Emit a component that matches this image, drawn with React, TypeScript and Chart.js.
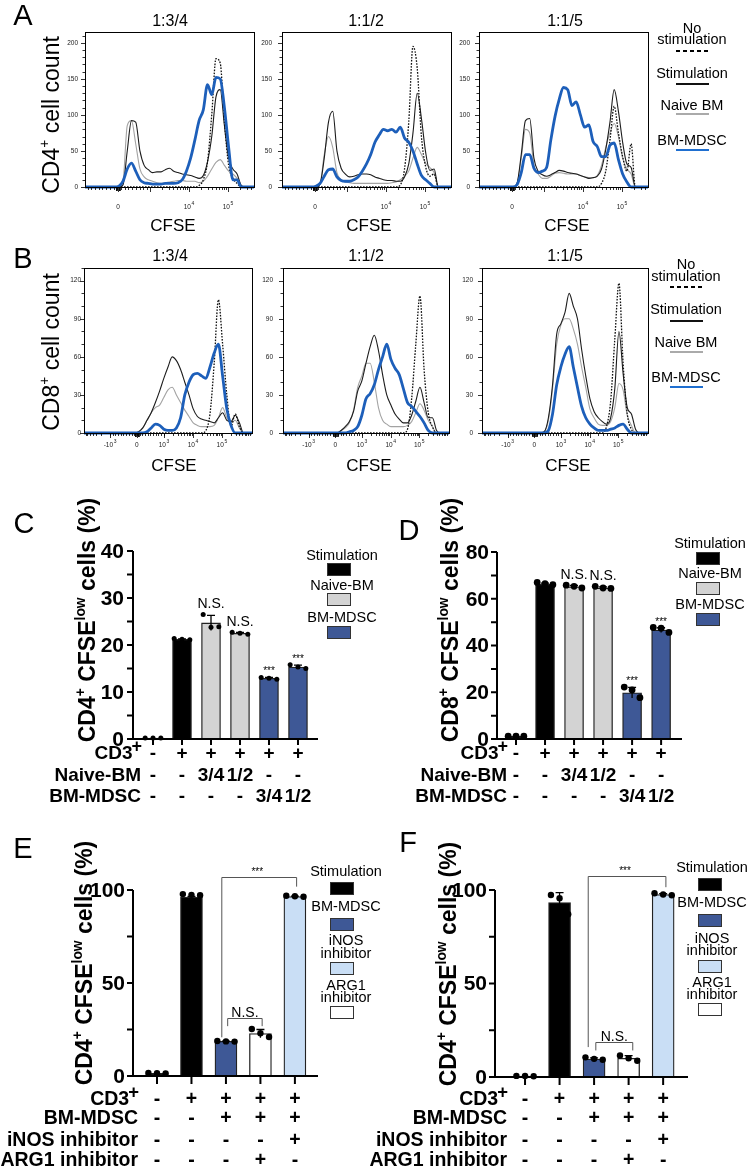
import React, { useEffect, useRef } from 'react';
import { Chart, registerables } from 'chart.js';

Chart.register(...registerables);

const FONT = '"Liberation Sans", Arial, Helvetica, sans-serif';
const W = 750;
const H = 1170;
const BLUE_LINE = '#1d5fba';
const BAR_BLUE = '#3e5896';
const BAR_GRAY = '#d3d3d3';
const BAR_LIGHT = '#c9def5';

// ---------- Histogram data (CFSE channel as % of display range, cell counts) ----------
const CFSE_CH = [0, 2.5, 5, 7.5, 10, 12.5, 15, 17.5, 20, 22.5, 25, 27.5, 30, 32.5, 35, 37.5, 40, 42.5, 45, 47.5, 50, 52.5, 55, 57.5, 60, 62.5, 65, 67.5, 70, 72.5, 75, 77.5, 80, 82.5, 85, 87.5, 90, 92.5, 95, 97.5, 100];

const A1_DOTTED = [0,0,0,0,0,0,0,0,0,0,0,0,0,0,0,0,0,0,0,0, 0,0,0,0,0,0,0,2,10,35, 100,178,172,90,30,12,5,0,0,0,0];
const A1_STIM = [0,0,0,0,0,0,0,0,0, 3,50,92,90,50,30,24,20,21,21,24, 26,22,20,18,17,16,14,12,16,35, 70,125,135,85,40,25,18,2,0,0,0];
const A1_NAIVE = [0,0,0,0,0,0,0,0,0, 8,85,92,60,25,14,10,8,6,5,6, 7,8,9,9,8,8,8,6,8,15, 25,34,38,30,22,18,12,2,0,0,0];
const A1_MDSC = [0,0,0,0,0,0,0,0, 1,8,25,33,22,10,6,5,4,4,4,5, 5,5,6,10,22,40,65,92,107,142, 128,152,150,110,55,10,10,0,0,0,0];

const A2_DOTTED = [0,0,0,0,0,0,0,0,0,0,0,0,0,0,0,0,0,0,0,0, 0,0,0,0,0,0,0,0,3,25, 90,195,165,70,28,15,18,0,0,0,0];
const A2_STIM = [0,0,0,0,0,0,0,0,0, 4,40,90,105,50,26,18,14,15,17,18, 18,17,14,12,10,9,9,8,8,14, 32,75,130,95,48,23,25,0,0,0,0];
const A2_NAIVE = [0,0,0,0,0,0,0,0,0, 4,45,70,55,20,10,7,6,5,5,5, 5,5,5,5,5,5,6,7,10,15, 22,40,55,45,33,27,20,0,0,0,0];
const A2_MDSC = [0,0,0,0,0,0,0,0, 1,5,15,24,25,14,9,8,8,10,14,22, 32,45,62,72,80,78,80,76,83,68, 62,50,32,16,10,5,0,0,0,0,0];

const A3_DOTTED = [0,0,0,0,0,0,0,0,0,0,0,0,0,0,0,0,0,0,0,0, 0,0,0,0,0,0,0,0,0,5, 22,65,112,75,42,22,60,0,0,0,0];
const A3_STIM = [0,0,0,0,0,0,0,0,0, 5,45,92,95,40,22,17,15,17,20,23, 22,20,19,18,16,14,12,13,15,25, 52,90,135,105,62,32,27,0,0,0,0];
const A3_NAIVE = [0,0,0,0,0,0,0,0,0, 5,40,80,75,30,18,12,12,15,19,20, 19,18,18,18,16,14,13,13,16,30, 55,75,88,70,40,25,18,0,0,0,0];
const A3_MDSC = [0,0,0,0,0,0,0,0,0, 3,20,45,45,26,20,22,27,65,98,122, 138,135,113,118,100,83,86,63,56,42, 42,58,61,38,18,7,0,0,0,0,0];

const B1_DOTTED = [0,0,0,0,0,0,0,0,0,0,0,0,0,0,0,0,0,0,0,0, 0,0,0,0,0,0,0,0,0,2, 15,55,105,70,30,5,15,5,0,0,0];
const B1_STIM = [0,0,0,0,0,0,0,0,0,0,0,0,0, 1,4,10,16,24,33,43, 52,60,57,50,40,30,19,13,11,10, 9,8,12,16,10,9,14,8,0,0,0];
const B1_NAIVE = [0,0,0,0,0,0,0,0,0,0,0,0,0, 1,4,10,16,20,22,28, 34,36,30,24,18,13,8,6,5,5, 5,6,12,20,12,8,10,4,0,0,0];
const B1_MDSC = [0,0,0,0,0,0,0,0,0,0,0,0,0,0,0, 1,4,7,6,3, 2,2,4,12,30,40,46,47,45,43, 52,63,70,45,19,6,0,0,0,0,0];

const B2_DOTTED = [0,0,0,0,0,0,0,0,0,0,0,0,0,0,0,0,0,0,0,0, 0,0,0,0,0,0,0,0,0,0, 3,27,70,108,50,16,5,0,0,0,0];
const B2_STIM = [0,0,0,0,0,0,0,0,0,0,0,0,0,0, 2,5,9,17,33,41, 55,68,77,65,46,30,22,15,11,8, 8,14,25,36,24,12,12,2,0,0,0];
const B2_NAIVE = [0,0,0,0,0,0,0,0,0,0,0,0,0,0, 2,4,8,18,36,45, 55,55,40,20,10,7,5,5,5,5, 6,9,16,23,18,10,5,0,0,0,0];
const B2_MDSC = [0,0,0,0,0,0,0,0,0,0,0,0,0,0,0,0, 1,2,5,14, 27,31,38,50,60,70,58,51,46,35, 24,21,17,13,8,2,0,0,0,0,0];

const B3_DOTTED = [0,0,0,0,0,0,0,0,0,0,0,0,0,0,0,0,0,0,0,0, 0,0,0,0,0,0,0,0,0,0, 5,25,74,118,55,15,3,0,0,0,0];
const B3_STIM = [0,0,0,0,0,0,0,0,0,0,0,0,0,0,0, 1,12,38,78,86, 95,110,100,90,66,45,27,17,12,9, 7,12,35,80,47,20,15,3,0,0,0];
const B3_NAIVE = [0,0,0,0,0,0,0,0,0,0,0,0,0,0,0, 1,10,35,70,85, 90,90,82,70,52,36,19,12,7,6, 6,9,20,39,34,14,6,0,0,0,0];
const B3_MDSC = [0,0,0,0,0,0,0,0,0,0,0,0,0,0,0,0, 2,15,38,52, 62,68,52,36,21,12,7,4,2,2, 2,3,4,6,7,3,0,0,0,0,0];

// Tick labels of the histograms
const A_XLABELS = [{ p: 19.5, t: '0' }, { p: 61.5, t: '10', e: '4' }, { p: 84.6, t: '10', e: '5' }];
const B_XLABELS = [{ p: 15.5, t: '-10', e: '3' }, { p: 31.5, t: '0' }, { p: 47.6, t: '10', e: '3' }, { p: 64.9, t: '10', e: '4' }, { p: 82.1, t: '10', e: '5' }];

// ---------- Bar data ----------
const C_MEAN = [0.2, 21.2, 24.7, 22.5, 12.9, 15.3];
const C_SD = [0, 0.1, 1.6, 0.2, 0.2, 0.4];
const C_REP1 = [0.2, 21.4, 26.5, 22.7, 13.1, 15.8];
const C_REP2 = [0.2, 21.2, 23.8, 22.5, 12.9, 15.3];
const C_REP3 = [0.2, 21.1, 23.9, 22.3, 12.7, 15.0];
const C_NOTES = ['', '', 'N.S.', 'N.S.', '***', '***'];
const C_ROW_CD3 = ['-', '+', '+', '+', '+', '+'];
const C_ROW_NAIVE = ['-', '-', '3/4', '1/2', '-', '-'];
const C_ROW_MDSC = ['-', '-', '-', '-', '3/4', '1/2'];
const C_YTICKS = [0, 5, 10, 15, 20, 25, 30, 35, 40];
const C_YLABELS = [0, 10, 20, 30, 40];

const D_MEAN = [1.2, 66.2, 65.1, 64.6, 19.8, 46.6];
const D_SD = [0, 0.5, 0.6, 0.5, 2.3, 1.0];
const D_REP1 = [1.2, 67.0, 65.8, 65.3, 22.2, 47.7];
const D_REP2 = [1.2, 66.5, 65.3, 64.6, 21.0, 47.4];
const D_REP3 = [1.2, 66.0, 64.6, 64.4, 17.7, 45.6];
const D_NOTES = ['', '', 'N.S.', 'N.S.', '***', '***'];
const D_YTICKS = [0, 10, 20, 30, 40, 50, 60, 70, 80];
const D_YLABELS = [0, 20, 40, 60, 80];

const E_MEAN = [1.5, 96.2, 18.6, 22.8, 96.5];
const E_SD = [0, 0.4, 0.15, 2.2, 0.25];
const E_REP1 = [1.6, 97.8, 18.8, 25.3, 96.9];
const E_REP2 = [1.5, 97.4, 18.6, 23.0, 96.6];
const E_REP3 = [1.4, 97.2, 18.5, 21.0, 96.4];

const F_MEAN = [0.5, 93.3, 9.6, 10.0, 97.6];
const F_SD = [0, 5.3, 0.6, 1.4, 0.5];
const F_REP1 = [0.6, 97.3, 10.5, 11.5, 98.3];
const F_REP2 = [0.5, 95.6, 9.7, 10.0, 97.6];
const F_REP3 = [0.4, 87.0, 9.2, 8.7, 97.2];

const EF_ROW_CD3 = ['-', '+', '+', '+', '+'];
const EF_ROW_MDSC = ['-', '-', '+', '+', '+'];
const EF_ROW_INOS = ['-', '-', '-', '-', '+'];
const EF_ROW_ARG1 = ['-', '-', '-', '+', '-'];
const EF_YTICKS = [0, 25, 50, 75, 100];
const EF_YLABELS = [0, 50, 100];

// ---------- Plugins ----------
function makeHistPlugin(axis: any, yLabelRight: number) {
  return {
    id: 'histDeco',
    afterDraw(chart: any) {
      const { ctx, chartArea: a, scales } = chart;
      const xs = scales.x;
      const ys = scales.y;
      ctx.save();
      ctx.strokeStyle = '#000';
      ctx.lineWidth = 1;
      ctx.strokeRect(a.left + 0.5, a.top + 0.5, a.right - a.left, a.bottom - a.top);
      ctx.lineWidth = 0.8;
      ctx.beginPath();
      const tick = (p: number, len: number) => {
        if (p < 0 || p > 100) return;
        const px = Math.round(xs.getPixelForValue(p)) + 0.5;
        ctx.moveTo(px, a.bottom + 0.5);
        ctx.lineTo(px, a.bottom + 0.5 + len);
      };
      for (let p = axis.lin[0]; p <= axis.lin[1] + 0.01; p += axis.lin[2]) tick(p, 2.5);
      axis.decades.forEach((d: number[]) => {
        for (let k = 2; k <= 9; k++) tick(d[0] + Math.log10(k) * (d[1] - d[0]), 2.5);
      });
      if (axis.neg) {
        for (let k = 2; k <= 9; k++) tick(axis.neg[0] - Math.log10(k) * (axis.neg[0] - axis.neg[1]), 2.5);
      }
      [-1.4, -0.9, -0.45, 0.45, 0.9, 1.4].forEach((o) => tick(axis.cluster + o, 3.5));
      axis.majors.forEach((p: number) => tick(p, 4.5));
      for (let v = 0; v <= axis.yMax; v += axis.yMinor) {
        const py = Math.round(ys.getPixelForValue(v)) + 0.5;
        const len = v % axis.yMajor === 0 ? 4 : 2.5;
        ctx.moveTo(a.left - len, py);
        ctx.lineTo(a.left, py);
      }
      ctx.stroke();
      ctx.fillStyle = '#222';
      ctx.font = `6.5px ${FONT}`;
      ctx.textAlign = 'right';
      ctx.textBaseline = 'middle';
      for (let v = 0; v <= axis.yMax; v += axis.yMajor) ctx.fillText(String(v), yLabelRight, ys.getPixelForValue(v));
      ctx.textAlign = 'left';
      ctx.textBaseline = 'alphabetic';
      axis.labels.forEach((l: any) => {
        const px = xs.getPixelForValue(l.p);
        ctx.font = `6.5px ${FONT}`;
        const wb = ctx.measureText(l.t).width;
        let we = 0;
        if (l.e) {
          ctx.font = `5px ${FONT}`;
          we = ctx.measureText(l.e).width + 0.6;
        }
        const x0 = px - (wb + we) / 2;
        ctx.font = `6.5px ${FONT}`;
        ctx.fillText(l.t, x0, axis.xLabelY + 2.5);
        if (l.e) {
          ctx.font = `5px ${FONT}`;
          ctx.fillText(l.e, x0 + wb + 0.6, axis.xLabelY - 1.5);
        }
      });
      ctx.restore();
    },
  };
}

function makeBarPlugin(cfg: any) {
  return {
    id: 'barDeco',
    afterDatasetsDraw(chart: any) {
      const { ctx, scales } = chart;
      const x = scales.x;
      const y = scales.y;
      ctx.save();
      ctx.strokeStyle = '#000';
      ctx.lineWidth = 1.3;
      cfg.mean.forEach((m: number, i: number) => {
        const s = cfg.sd[i];
        if (!s) return;
        const px = x.getPixelForValue(i);
        const y1 = y.getPixelForValue(m + s);
        const y0 = y.getPixelForValue(Math.max(m - s, 0));
        ctx.beginPath();
        ctx.moveTo(px, y0);
        ctx.lineTo(px, y1);
        ctx.moveTo(px - cfg.cap, y1);
        ctx.lineTo(px + cfg.cap, y1);
        ctx.stroke();
      });
      ctx.restore();
    },
    afterDraw(chart: any) {
      const { ctx, chartArea: a, scales } = chart;
      const x = scales.x;
      const y = scales.y;
      ctx.save();
      ctx.strokeStyle = '#000';
      ctx.lineWidth = 2;
      ctx.beginPath();
      ctx.moveTo(a.left, a.top);
      ctx.lineTo(a.left, a.bottom + 1);
      ctx.moveTo(a.left - 1, a.bottom);
      ctx.lineTo(a.right, a.bottom);
      cfg.yTicks.forEach((v: number) => {
        const py = y.getPixelForValue(v);
        ctx.moveTo(a.left - cfg.tickLen, py);
        ctx.lineTo(a.left, py);
      });
      cfg.mean.forEach((_: number, i: number) => {
        const px = x.getPixelForValue(i);
        ctx.moveTo(px, a.bottom);
        ctx.lineTo(px, a.bottom + cfg.xTickLen);
      });
      ctx.stroke();
      ctx.fillStyle = '#000';
      ctx.font = `bold ${cfg.yFont}px ${FONT}`;
      ctx.textAlign = 'right';
      ctx.textBaseline = 'middle';
      cfg.yLabels.forEach((v: number) => ctx.fillText(String(v), a.left - cfg.yLabelGap, y.getPixelForValue(v) + 1));
      // rows of +/- under the axis
      cfg.rows.forEach((row: any, k: number) => {
        const ry = cfg.rowY[k];
        ctx.font = `bold ${cfg.rowFont}px ${FONT}`;
        ctx.textAlign = 'right';
        if (row.sup) {
          ctx.font = `bold ${cfg.rowFont - 1}px ${FONT}`;
          const wp = ctx.measureText(row.sup).width;
          ctx.textAlign = 'left';
          ctx.fillText(row.sup, cfg.rowRight - wp + 1, ry - 7);
          ctx.font = `bold ${cfg.rowFont}px ${FONT}`;
          ctx.textAlign = 'right';
          ctx.fillText(row.label, cfg.rowRight - wp + 2, ry);
        } else {
          ctx.fillText(row.label, cfg.rowRight, ry);
        }
        ctx.textAlign = 'center';
        row.vals.forEach((s: string, i: number) => ctx.fillText(s, x.getPixelForValue(i), ry));
      });
      // significance notes above bars
      ctx.textBaseline = 'alphabetic';
      ctx.textAlign = 'center';
      (cfg.notes || []).forEach((t: string, i: number) => {
        if (!t) return;
        const top = Math.max(cfg.reps[0][i], cfg.reps[1][i], cfg.reps[2][i], cfg.mean[i] + cfg.sd[i]);
        const py = y.getPixelForValue(top);
        if (t === '***') {
          ctx.font = `10px ${FONT}`;
          ctx.fillText(t, x.getPixelForValue(i), py - 3);
        } else {
          ctx.font = `14px ${FONT}`;
          ctx.fillText(t, x.getPixelForValue(i), py - 6);
        }
      });
      // brackets
      (cfg.brackets || []).forEach((b: any) => {
        const x0 = x.getPixelForValue(b.x0);
        const x1 = x.getPixelForValue(b.x1);
        const yb = Math.round(y.getPixelForValue(b.y)) + 0.5;
        ctx.strokeStyle = '#555';
        ctx.lineWidth = 1;
        ctx.beginPath();
        ctx.moveTo(x0, y.getPixelForValue(b.l0));
        ctx.lineTo(x0, yb);
        ctx.lineTo(x1, yb);
        ctx.lineTo(x1, y.getPixelForValue(b.l1));
        ctx.stroke();
        if (b.t === '***') {
          ctx.font = `10px ${FONT}`;
          ctx.fillText(b.t, (x0 + x1) / 2 - 2, yb - 3);
        } else {
          ctx.font = `14px ${FONT}`;
          ctx.fillText(b.t, (x0 + x1) / 2, yb - 2);
        }
      });
      ctx.restore();
    },
  };
}

// ---------- Components ----------
function Hist({ area, series, axis, yLabelRight }: any) {
  const ref = useRef<HTMLCanvasElement>(null);
  useEffect(() => {
    const [l, t, r, b] = area;
    const styles = [
      { key: 'naive', color: '#a3a3a3', width: 1.1, dash: [], order: 3 },
      { key: 'stim', color: '#1c1c1c', width: 1.1, dash: [], order: 2 },
      { key: 'dotted', color: '#111', width: 1.3, dash: [1.6, 1.4], order: 1 },
      { key: 'mdsc', color: BLUE_LINE, width: 2.8, dash: [], order: 0 },
    ];
    const datasets = styles.map((s) => ({
      type: 'line',
      data: series[s.key].map((v: number, i: number) => ({ x: CFSE_CH[i], y: v })),
      borderColor: s.color,
      borderWidth: s.width,
      borderDash: s.dash,
      order: s.order,
      pointRadius: 0,
      fill: false,
      cubicInterpolationMode: 'monotone',
      clip: false,
    }));
    const chart = new Chart(ref.current as HTMLCanvasElement, {
      type: 'line',
      data: { datasets } as any,
      options: {
        animation: false,
        responsive: false,
        devicePixelRatio: 1,
        events: [],
        layout: { padding: { left: l, top: t, right: W - r, bottom: H - b } },
        plugins: { legend: { display: false }, tooltip: { enabled: false } },
        scales: {
          x: { type: 'linear', display: false, min: 0, max: 100 },
          y: { type: 'linear', display: false, min: 0, max: axis.yMax },
        },
      } as any,
      plugins: [makeHistPlugin(axis, yLabelRight)],
    });
    return () => chart.destroy();
  }, []);
  return <canvas ref={ref} width={W} height={H} style={{ position: 'absolute', left: 0, top: 0 }} />;
}

function Bars({ area, xMin, xMax, yMax, mean, sd, reps, colors, cfg }: any) {
  const ref = useRef<HTMLCanvasElement>(null);
  useEffect(() => {
    const [l, t, r, b] = area;
    const offs = [-cfg.jitter, 0, cfg.jitter];
    const dots: any[] = [];
    reps.forEach((rep: number[], k: number) => rep.forEach((v, i) => dots.push({ x: i + offs[k], y: v })));
    const chart = new Chart(ref.current as HTMLCanvasElement, {
      type: 'bar',
      data: {
        datasets: [
          { type: 'scatter', data: dots, backgroundColor: '#000', borderWidth: 0, pointRadius: cfg.dotR, order: 0, clip: false },
          {
            type: 'bar',
            data: mean.map((v: number, i: number) => ({ x: i, y: v })),
            backgroundColor: colors,
            borderColor: '#222',
            borderWidth: 1.3,
            barThickness: cfg.barW,
            order: 1,
          },
        ],
      } as any,
      options: {
        animation: false,
        responsive: false,
        devicePixelRatio: 1,
        events: [],
        layout: { padding: { left: l, top: t, right: W - r, bottom: H - b } },
        plugins: { legend: { display: false }, tooltip: { enabled: false } },
        scales: {
          x: { type: 'linear', display: false, min: xMin, max: xMax, offset: false },
          y: { type: 'linear', display: false, min: 0, max: yMax },
        },
      } as any,
      plugins: [makeBarPlugin({ ...cfg, mean, sd, reps })],
    });
    return () => chart.destroy();
  }, []);
  return <canvas ref={ref} width={W} height={H} style={{ position: 'absolute', left: 0, top: 0 }} />;
}

const T = ({ x, y, s, w = 400, al = 'c', rot = false, children }: any) => {
  const tx = al === 'c' ? '-50%' : al === 'r' ? '-100%' : '0';
  return (
    <div
      style={{
        position: 'absolute',
        left: x,
        top: y,
        fontSize: s,
        fontWeight: w,
        fontFamily: FONT,
        color: '#000',
        lineHeight: 1,
        whiteSpace: 'nowrap',
        transform: `translate(${tx},-50%)${rot ? ' rotate(-90deg)' : ''}`,
      }}
    >
      {children}
    </div>
  );
};
const Sup = ({ children }: any) => (
  <span style={{ fontSize: '0.6em', position: 'relative', top: '-0.7em' }}>{children}</span>
);
const LLine = ({ x, y, w, color, t = 2, dashed = false }: any) => (
  <div
    style={{
      position: 'absolute',
      left: x,
      top: y - t / 2,
      width: w,
      height: t,
      background: dashed ? 'repeating-linear-gradient(90deg,#000 0 4px,transparent 4px 7px)' : color,
    }}
  />
);
const Box = ({ x, y, color }: any) => (
  <div
    style={{
      position: 'absolute',
      left: x,
      top: y,
      width: 24,
      height: 13,
      background: color,
      border: '1.3px solid #333',
      boxSizing: 'border-box',
    }}
  />
);

const A_AXIS = {
  yMax: 215, yMajor: 50, yMinor: 10, xLabelY: 206,
  lin: [1.5, 38.5, 2.2], cluster: 19.5, majors: [19.5, 38.5, 61.5, 84.6],
  decades: [[38.5, 61.5], [61.5, 84.6], [84.6, 107.7]], neg: null, labels: A_XLABELS,
};
const B_AXIS = {
  yMax: 130, yMajor: 30, yMinor: 10, xLabelY: 444,
  lin: [15.5, 47.6, 1.6], cluster: 31.5, majors: [15.5, 31.5, 47.6, 64.9, 82.1],
  decades: [[47.6, 64.9], [64.9, 82.1], [82.1, 99.4]], neg: [15.5, -1.75], labels: B_XLABELS,
};

const CD_BASE = {
  dotR: 2.8, barW: 19, jitter: 0.27, cap: 4, tickLen: 6, xTickLen: 6, yFont: 21, yLabelGap: 9,
  rowFont: 19, rowY: [754, 776, 797],
};
const EF_BASE = {
  dotR: 3.2, barW: 22, jitter: 0.25, cap: 4, tickLen: 6, xTickLen: 8, yFont: 21, yLabelGap: 8,
  rowFont: 19.5, rowY: [1100, 1119, 1141, 1161], yTicks: EF_YTICKS, yLabels: EF_YLABELS,
  rows: [
    { label: 'CD3', sup: '+', vals: EF_ROW_CD3 },
    { label: 'BM-MDSC', vals: EF_ROW_MDSC },
    { label: 'iNOS inhibitor', vals: EF_ROW_INOS },
    { label: 'ARG1 inhibitor', vals: EF_ROW_ARG1 },
  ],
};

export default function App() {
  const histLegend = (cx: number, ys: number[]) => (
    <>
      <T x={cx} y={ys[0]} s={14.5}>No</T>
      <T x={cx} y={ys[1]} s={14.5}>stimulation</T>
      <LLine x={cx - 16} y={ys[2]} w={33} t={1.5} dashed />
      <T x={cx} y={ys[3]} s={14.5}>Stimulation</T>
      <LLine x={cx - 16} y={ys[4]} w={33} t={2} color="#111" />
      <T x={cx} y={ys[5]} s={14.5}>Naive BM</T>
      <LLine x={cx - 16} y={ys[6]} w={33} t={1.5} color="#aaa" />
      <T x={cx} y={ys[7]} s={14.5}>BM-MDSC</T>
      <LLine x={cx - 16} y={ys[8]} w={33} t={2} color="#1f6fd0" />
    </>
  );
  return (
    <div style={{ position: 'absolute', left: 0, top: 0, width: W, height: H, background: '#fff', overflow: 'hidden' }}>
      <Hist area={[85, 32, 254, 187]} axis={A_AXIS} yLabelRight={78} series={{ dotted: A1_DOTTED, stim: A1_STIM, naive: A1_NAIVE, mdsc: A1_MDSC }} />
      <Hist area={[282, 32, 451, 187]} axis={A_AXIS} yLabelRight={272} series={{ dotted: A2_DOTTED, stim: A2_STIM, naive: A2_NAIVE, mdsc: A2_MDSC }} />
      <Hist area={[479, 32, 648, 187]} axis={A_AXIS} yLabelRight={470} series={{ dotted: A3_DOTTED, stim: A3_STIM, naive: A3_NAIVE, mdsc: A3_MDSC }} />
      <Hist area={[84, 268, 252, 433]} axis={B_AXIS} yLabelRight={81} series={{ dotted: B1_DOTTED, stim: B1_STIM, naive: B1_NAIVE, mdsc: B1_MDSC }} />
      <Hist area={[283, 268, 449, 433]} axis={B_AXIS} yLabelRight={273} series={{ dotted: B2_DOTTED, stim: B2_STIM, naive: B2_NAIVE, mdsc: B2_MDSC }} />
      <Hist area={[482, 268, 648, 433]} axis={B_AXIS} yLabelRight={473} series={{ dotted: B3_DOTTED, stim: B3_STIM, naive: B3_NAIVE, mdsc: B3_MDSC }} />

      <Bars
        area={[133, 551, 318, 739]} xMin={-0.69} xMax={5.69} yMax={40}
        mean={C_MEAN} sd={C_SD} reps={[C_REP1, C_REP2, C_REP3]}
        colors={['#000', '#000', BAR_GRAY, BAR_GRAY, BAR_BLUE, BAR_BLUE]}
        cfg={{
          ...CD_BASE, rowRight: 141, yTicks: C_YTICKS, yLabels: C_YLABELS, notes: C_NOTES, dotR: 2.5,
          rows: [
            { label: 'CD3', sup: '+', vals: C_ROW_CD3 },
            { label: 'Naive-BM', vals: C_ROW_NAIVE },
            { label: 'BM-MDSC', vals: C_ROW_MDSC },
          ],
        }}
      />
      <Bars
        area={[497, 552, 682, 739]} xMin={-0.655} xMax={5.72} yMax={80}
        mean={D_MEAN} sd={D_SD} reps={[D_REP1, D_REP2, D_REP3]}
        colors={['#000', '#000', BAR_GRAY, BAR_GRAY, BAR_BLUE, BAR_BLUE]}
        cfg={{
          ...CD_BASE, rowRight: 507, yTicks: D_YTICKS, yLabels: D_YLABELS, notes: D_NOTES, dotR: 3.4, yLabelGap: 8,
          rows: [
            { label: 'CD3', sup: '+', vals: C_ROW_CD3 },
            { label: 'Naive-BM', vals: C_ROW_NAIVE },
            { label: 'BM-MDSC', vals: C_ROW_MDSC },
          ],
        }}
      />
      <Bars
        area={[133, 890, 318, 1076]} xMin={-0.696} xMax={4.67} yMax={100}
        mean={E_MEAN} sd={E_SD} reps={[E_REP1, E_REP2, E_REP3]}
        colors={['#000', '#000', BAR_BLUE, '#fff', BAR_LIGHT]}
        cfg={{
          ...EF_BASE, rowRight: 138,
          brackets: [
            { x0: 1.88, x1: 4.05, y: 107, l0: 20.8, l1: 101.8, t: '***' },
            { x0: 2.05, x1: 3.05, y: 31, l0: 26.8, l1: 26.8, t: 'N.S.' },
          ],
        }}
      />
      <Bars
        area={[495, 890, 688, 1077]} xMin={-0.87} xMax={4.72} yMax={100}
        mean={F_MEAN} sd={F_SD} reps={[F_REP1, F_REP2, F_REP3]}
        colors={['#000', '#000', BAR_BLUE, '#fff', BAR_LIGHT]}
        cfg={{
          ...EF_BASE, rowRight: 507,
          brackets: [
            { x0: 1.83, x1: 4.08, y: 107.5, l0: 16, l1: 101.5, t: '***' },
            { x0: 2.05, x1: 3.12, y: 18.7, l0: 14.2, l1: 14.2, t: 'N.S.' },
          ],
        }}
      />

      {/* Panel letters */}
      <T x={23} y={15} s={29}>A</T>
      <T x={23} y={258} s={29}>B</T>
      <T x={24} y={523} s={29}>C</T>
      <T x={409} y={530} s={29}>D</T>
      <T x={23} y={848} s={29}>E</T>
      <T x={408} y={842} s={29}>F</T>

      {/* Histogram titles */}
      <T x={170} y={21} s={16}>1:3/4</T>
      <T x={366} y={21} s={16}>1:1/2</T>
      <T x={565} y={21} s={16}>1:1/5</T>
      <T x={170} y={256} s={16}>1:3/4</T>
      <T x={366} y={256} s={16}>1:1/2</T>
      <T x={565} y={256} s={16}>1:1/5</T>

      <T x={51} y={115} s={23} rot>CD4<Sup>+</Sup> cell count</T>
      <T x={51} y={352} s={23} rot>CD8<Sup>+</Sup> cell count</T>

      <T x={173} y={225} s={17}>CFSE</T>
      <T x={369} y={225} s={17}>CFSE</T>
      <T x={567} y={225} s={17}>CFSE</T>
      <T x={174} y={465} s={17}>CFSE</T>
      <T x={369} y={465} s={17}>CFSE</T>
      <T x={568} y={465} s={17}>CFSE</T>

      {histLegend(692, [28, 39, 51, 73, 84, 105, 114, 140, 150])}
      {histLegend(686, [264, 276, 287, 309, 321, 342, 352, 377, 387])}

      {/* Bar chart titles */}
      <T x={87} y={620} s={23} w={700} rot>CD4<Sup>+</Sup> CFSE<Sup>low</Sup> cells (%)</T>
      <T x={450} y={620} s={23} w={700} rot>CD8<Sup>+</Sup> CFSE<Sup>low</Sup> cells (%)</T>
      <T x={84} y={963} s={23} w={700} rot>CD4<Sup>+</Sup> CFSE<Sup>low</Sup> cells (%)</T>
      <T x={448} y={964} s={23} w={700} rot>CD4<Sup>+</Sup> CFSE<Sup>low</Sup> cells (%)</T>

      {/* C legend */}
      <T x={342} y={555} s={14.5}>Stimulation</T>
      <Box x={327} y={563} color="#000" />
      <T x={342} y={585} s={14.5}>Naive-BM</T>
      <Box x={327} y={593} color={BAR_GRAY} />
      <T x={342} y={617} s={14.5}>BM-MDSC</T>
      <Box x={327} y={626} color={BAR_BLUE} />

      {/* D legend */}
      <T x={710} y={543} s={14.5}>Stimulation</T>
      <Box x={696} y={552} color="#000" />
      <T x={710} y={573} s={14.5}>Naive-BM</T>
      <Box x={696} y={582} color={BAR_GRAY} />
      <T x={710} y={604} s={14.5}>BM-MDSC</T>
      <Box x={696} y={613} color={BAR_BLUE} />

      {/* E legend */}
      <T x={346} y={871} s={14.5}>Stimulation</T>
      <Box x={330} y={882} color="#000" />
      <T x={346} y={906} s={14.5}>BM-MDSC</T>
      <Box x={330} y={918} color={BAR_BLUE} />
      <T x={346} y={940} s={14.5}>iNOS</T>
      <T x={346} y={953} s={14.5}>inhibitor</T>
      <Box x={330} y={962} color={BAR_LIGHT} />
      <T x={346} y={985} s={14.5}>ARG1</T>
      <T x={346} y={997} s={14.5}>inhibitor</T>
      <Box x={330} y={1006} color="#fff" />

      {/* F legend */}
      <T x={712} y={867} s={14.5}>Stimulation</T>
      <Box x={698} y={878} color="#000" />
      <T x={712} y={902} s={14.5}>BM-MDSC</T>
      <Box x={698} y={914} color={BAR_BLUE} />
      <T x={712} y={938} s={14.5}>iNOS</T>
      <T x={712} y={950} s={14.5}>inhibitor</T>
      <Box x={698} y={960} color={BAR_LIGHT} />
      <T x={712} y={982} s={14.5}>ARG1</T>
      <T x={712} y={994} s={14.5}>inhibitor</T>
      <Box x={698} y={1003} color="#fff" />
    </div>
  );
}
